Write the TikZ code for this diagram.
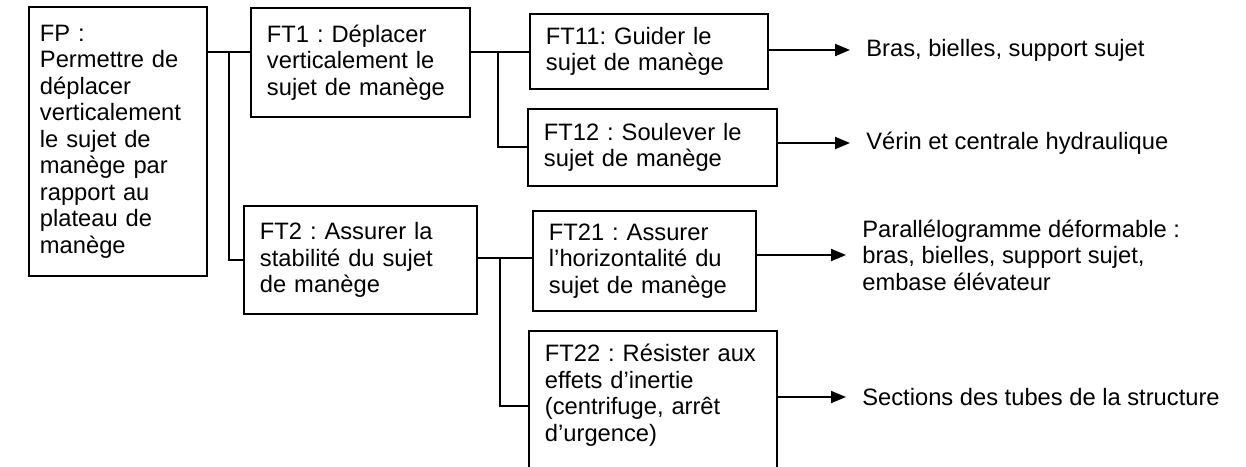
\documentclass[tikz,border=0pt]{standalone}
\usepackage{fontspec}
\setmainfont{Liberation Sans}
\usetikzlibrary{arrows.meta}
\frenchspacing

\tikzset{
	fbox/.style={draw, line width=1.1pt, anchor=north west, align=left, inner xsep=0.32cm,
		font=\fontsize{13.5pt}{15.1pt}\selectfont},
	sortie/.style={anchor=west, align=left, inner xsep=0.32cm,
		font=\fontsize{13.5pt}{15.1pt}\selectfont},
	lien/.style={line width=1.1pt},
	fleche/.style={line width=1.1pt, -{Triangle[length=0.3cm, width=0.24cm]}}
}

\begin{document}
\begin{tikzpicture}[x=0.02cm, y=-0.02cm]
			%%%%% START %%%%%
			\useasboundingbox (0,0) rectangle (1246,466);
			
			\node[fbox, inner xsep=0.22cm, text width=3.12cm, minimum width=3.56cm, minimum height=5.38cm] (fp) at (28,6)
				{FP :\\Permettre de\\déplacer\\verticalement\\le sujet de\\manège par\\rapport au\\plateau de\\manège};
			
			\node[fbox, text width=3.74cm, minimum width=4.38cm, minimum height=2.18cm] (ft1) at (250,7)
				{FT1 : Déplacer\\verticalement le\\sujet de manège};
			\node[fbox, text width=4.02cm, minimum width=4.66cm, minimum height=2.16cm] (ft2) at (243,205)
				{FT2 : Assurer la\\stabilité du sujet\\de manège};
			
			\node[fbox, text width=4.12cm, minimum width=4.76cm, minimum height=1.5cm] (ft11) at (529,13)
				{FT11: Guider le\\sujet de manège};
			\node[fbox, text width=4.34cm, minimum width=4.98cm, minimum height=1.54cm] (ft12) at (527,108)
				{FT12 : Soulever le\\sujet de manège};
			\node[fbox, text width=3.82cm, minimum width=4.46cm, minimum height=2cm] (ft21) at (532,210)
				{FT21 : Assurer\\l'horizontalité du\\sujet de manège};
			\node[fbox, text width=4.32cm, minimum width=4.96cm, minimum height=3cm] (ft22) at (528,330)
				{FT22 : Résister aux\\effets d'inertie\\(centrifuge, arrêt\\d'urgence)\\\mbox{}};
			
			\node[sortie] (o11) at (850,50) {Bras, bielles, support sujet};
			\node[sortie] (o12) at (850,143) {Vérin et centrale hydraulique};
			\node[sortie] (o21) at (846,255) {Parallélogramme déformable :\\bras, bielles, support sujet,\\embase élévateur};
			\node[sortie] (o22) at (846,397) {Sections des tubes de la structure};
			
			% liaisons
			\coordinate (j1) at (229,52);
			\draw[lien] (fp.east |- j1) -- (ft1.west |- j1);
			\draw[lien] (j1) |- (ft2.west);
			
			\coordinate (j2) at (498,52);
			\draw[lien] (ft1.east |- j2) -- (ft11.west |- j2);
			\draw[lien] (j2) |- (ft12.west);
			
			\coordinate (j3) at (500,258);
			\draw[lien] (ft2.east |- j3) -- (ft21.west |- j3);
			\draw[lien] (j3) |- (ft22.west);
			
			\draw[fleche] (ft11.east |- o11.west) -- (o11.west);
			\draw[fleche] (ft12.east |- o12.west) -- (o12.west);
			\draw[fleche] (ft21.east |- o21.west) -- (o21.west);
			\draw[fleche] (ft22.east |- o22.west) -- (o22.west);
			
			%%%%% END %%%%%
\end{tikzpicture}
\end{document}
